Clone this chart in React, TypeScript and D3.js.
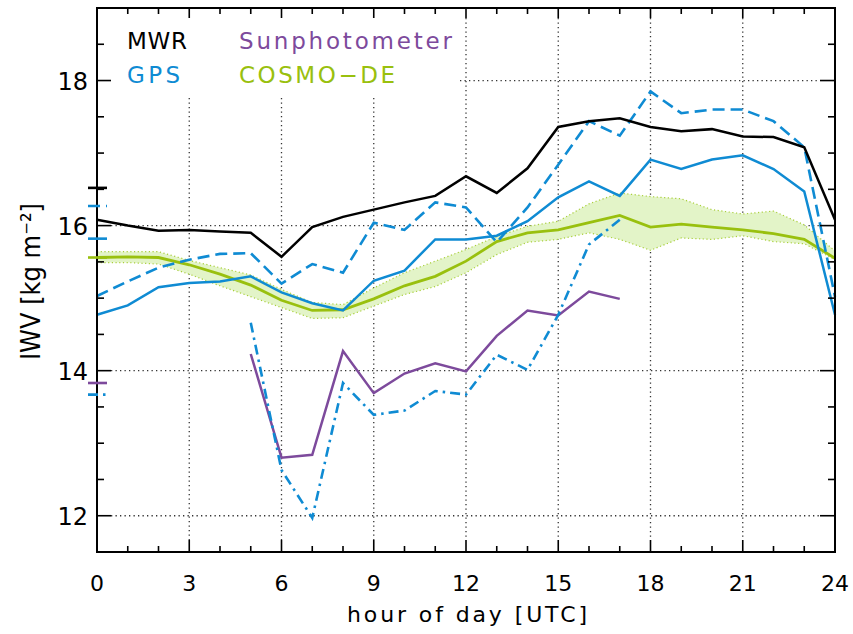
import React from "react";
import * as d3 from "d3";

const HOURS = [0,1,2,3,4,5,6,7,8,9,10,11,12,13,14,15,16,17,18,19,20,21,22,23,24];
const MWR = [16.08,16.0,15.93,15.94,15.92,15.9,15.57,15.98,16.12,16.22,16.32,16.41,16.68,16.45,16.79,17.36,17.44,17.48,17.36,17.30,17.33,17.23,17.22,17.08,16.08];
const GPS_SOLID = [14.77,14.90,15.15,15.21,15.23,15.30,15.08,14.93,14.83,15.24,15.38,15.81,15.81,15.86,16.06,16.39,16.61,16.41,16.91,16.78,16.91,16.97,16.78,16.47,14.77];
const GPS_DASHED = [15.03,15.23,15.42,15.53,15.61,15.62,15.20,15.47,15.35,16.04,15.94,16.32,16.25,15.77,16.25,16.84,17.44,17.24,17.85,17.55,17.60,17.60,17.44,17.08,15.02];
const SUB_HOURS = [5,6,7,8,9,10,11,12,13,14,15,16,17];
const GPS_DASHDOT = [14.66,12.63,11.97,13.83,13.39,13.45,13.72,13.67,14.22,14.01,14.77,15.74,16.08];
const SUNPHOTO = [14.23,12.80,12.84,14.27,13.69,13.96,14.10,13.99,14.48,14.83,14.76,15.09,14.99];
const COSMO = [15.56,15.57,15.56,15.46,15.33,15.18,14.97,14.83,14.84,14.99,15.17,15.30,15.51,15.78,15.90,15.94,16.04,16.14,15.98,16.02,15.98,15.94,15.89,15.81,15.55];
const COSMO_UP = [15.64,15.64,15.64,15.52,15.42,15.32,15.12,14.94,14.91,15.14,15.35,15.51,15.67,15.85,15.99,16.06,16.30,16.45,16.40,16.37,16.22,16.16,16.20,16.01,15.65];
const COSMO_LO = [15.49,15.49,15.47,15.33,15.17,15.02,14.87,14.72,14.73,14.89,15.05,15.16,15.35,15.60,15.77,15.81,15.90,15.81,15.66,15.83,15.81,15.86,15.78,15.75,15.53];
// daily mean markers on the left axis
const MEAN_MWR = 16.52;
const MEAN_GPS_DASHED = 16.27;
const MEAN_GPS_SOLID = 15.82;
const MEAN_COSMO = 15.56;
const MEAN_SUNPHOTO = 13.83;
const MEAN_GPS_DASHDOT = 13.67;

const X_TICKS = [0,3,6,9,12,15,18,21,24];
const Y_TICKS = [12,14,16,18];

const BLACK = "#000";
const BLUE = "#0f8bd3";
const PURPLE = "#7d4a9c";
const GREEN = "#99c00e";
const GREEN_FILL = "#e3f4c8";
const GREEN_EDGE = "#a9cf3c";

const DASHED = "12,6";
const DASHDOT = "10,5,2.5,5";

export default function App() {
  const W = 853, H = 634;
  const L = 97, R = 835, T = 8, B = 552;
  const x = d3.scaleLinear().domain([0, 24]).range([L, R]);
  const y = d3.scaleLinear().domain([11.5, 19]).range([B, T]);
  const line = d3.line<[number, number]>().x(d => x(d[0])).y(d => y(d[1]));
  const pts = (hs: number[], vs: number[]) => hs.map((h, i) => [h, vs[i]] as [number, number]);
  const area = d3.area<number>()
    .x((_, i) => x(HOURS[i]))
    .y0((_, i) => y(COSMO_LO[i]))
    .y1((_, i) => y(COSMO_UP[i]));

  const font = "DejaVu Sans, sans-serif";
  // legend box excluded from grid
  const legX = 460, legY = 98;

  const grid: JSX.Element[] = [];
  X_TICKS.filter(h => h > 0 && h < 24).forEach(h => {
    const gx = x(h);
    const top = gx < legX ? legY : T + 10;
    grid.push(<line key={"gx" + h} x1={gx} x2={gx} y1={top} y2={B - 12} stroke="#333" strokeWidth={1.3} strokeDasharray="1.3,3.2" />);
  });
  Y_TICKS.forEach(v => {
    const gy = y(v);
    const left = gy < legY ? legX : L + 14;
    grid.push(<line key={"gy" + v} x1={left} x2={R - 15} y1={gy} y2={gy} stroke="#333" strokeWidth={1.3} strokeDasharray="1.3,3.2" />);
  });

  const ticks: JSX.Element[] = [];
  d3.range(0, 25, 1).forEach(h => {
    const major = h % 3 === 0;
    const len = major ? 12 : 6;
    const tx = x(h);
    ticks.push(<line key={"tb" + h} x1={tx} x2={tx} y1={B} y2={B - len} stroke="#000" strokeWidth={1.6} />);
    ticks.push(<line key={"tt" + h} x1={tx} x2={tx} y1={T} y2={T + (major ? 10 : 6)} stroke="#000" strokeWidth={1.6} />);
  });
  d3.range(11.5, 19.01, 0.5).forEach(v => {
    const major = Math.abs(v % 2) < 1e-6;
    const ty = y(v);
    ticks.push(<line key={"tl" + v} x1={L} x2={L + (major ? 14 : 7)} y1={ty} y2={ty} stroke="#000" strokeWidth={1.6} />);
    ticks.push(<line key={"tr" + v} x1={R} x2={R - (major ? 15 : 7)} y1={ty} y2={ty} stroke="#000" strokeWidth={1.6} />);
  });

  const marker = (v: number, color: string, dash?: string, key?: string) => (
    <line key={key} x1={88} x2={107} y1={y(v)} y2={y(v)} stroke={color} strokeWidth={2.6} strokeDasharray={dash} />
  );

  return (
    <svg width={W} height={H} style={{ position: "absolute", left: 0, top: 0, background: "#fff" }}>
      <rect x={0} y={0} width={W} height={H} fill="#fff" />
      {grid}
      <path d={area(HOURS) || ""} fill={GREEN_FILL} />
      <path d={line(pts(HOURS, COSMO_UP)) || ""} fill="none" stroke={GREEN_EDGE} strokeWidth={1.2} strokeDasharray="1.2,2.5" />
      <path d={line(pts(HOURS, COSMO_LO)) || ""} fill="none" stroke={GREEN_EDGE} strokeWidth={1.2} strokeDasharray="1.2,2.5" />
      <path d={line(pts(HOURS, COSMO)) || ""} fill="none" stroke={GREEN} strokeWidth={2.8} />
      <path d={line(pts(SUB_HOURS, SUNPHOTO)) || ""} fill="none" stroke={PURPLE} strokeWidth={2.5} />
      <path d={line(pts(SUB_HOURS, GPS_DASHDOT)) || ""} fill="none" stroke={BLUE} strokeWidth={2.6} strokeDasharray={DASHDOT} />
      <path d={line(pts(HOURS, GPS_DASHED)) || ""} fill="none" stroke={BLUE} strokeWidth={2.6} strokeDasharray={DASHED} />
      <path d={line(pts(HOURS, GPS_SOLID)) || ""} fill="none" stroke={BLUE} strokeWidth={2.5} />
      <path d={line(pts(HOURS, MWR)) || ""} fill="none" stroke={BLACK} strokeWidth={2.5} />

      {ticks}
      <rect x={L} y={T} width={R - L} height={B - T} fill="none" stroke="#000" strokeWidth={2} />

      {marker(MEAN_MWR, BLACK, undefined, "m1")}
      {marker(MEAN_GPS_DASHED, BLUE, DASHED, "m2")}
      {marker(MEAN_GPS_SOLID, BLUE, undefined, "m3")}
      {marker(MEAN_COSMO, GREEN, undefined, "m4")}
      {marker(MEAN_SUNPHOTO, PURPLE, undefined, "m5")}
      {marker(MEAN_GPS_DASHDOT, BLUE, DASHDOT, "m6")}

      {Y_TICKS.map(v => (
        <text key={"yl" + v} x={88} y={y(v) + 9} textAnchor="end" fontFamily={font} fontSize={24} fill="#000">{v}</text>
      ))}
      {X_TICKS.map(h => (
        <text key={"xl" + h} x={x(h)} y={591} textAnchor="middle" fontFamily={font} fontSize={22} fill="#000">{h}</text>
      ))}
      <text x={(347 + 587) / 2} y={622} textAnchor="middle" fontFamily={font} fontSize={22} textLength={240} lengthAdjust="spacing" fill="#000">hour of day [UTC]</text>
      <text transform={`translate(40,${(203 + 360) / 2}) rotate(-90)`} textAnchor="middle" fontFamily={font} fontSize={27} textLength={157} lengthAdjust="spacingAndGlyphs" fill="#000">IWV [kg m⁻²]</text>

      <text x={127} y={49} fontFamily={font} fontSize={23} fill={BLACK} textLength={60} lengthAdjust="spacing">MWR</text>
      <text x={127} y={83} fontFamily={font} fontSize={23} fill={BLUE} textLength={53} lengthAdjust="spacing">GPS</text>
      <text x={239} y={49} fontFamily={font} fontSize={23} fill={PURPLE} textLength={213} lengthAdjust="spacing">Sunphotometer</text>
      <text x={239} y={83} fontFamily={font} fontSize={23} fill={GREEN} textLength={156} lengthAdjust="spacing">COSMO−DE</text>
    </svg>
  );
}
